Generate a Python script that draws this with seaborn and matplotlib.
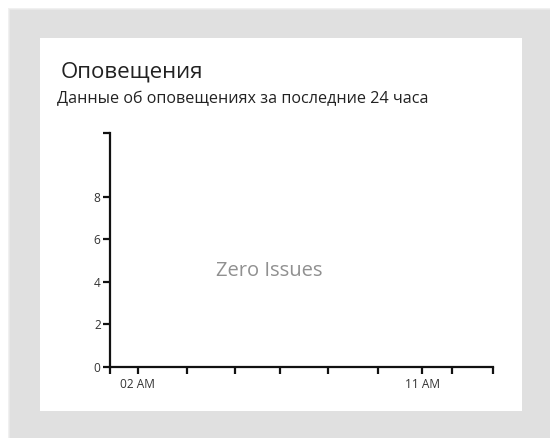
import matplotlib
matplotlib.use("Agg")
import matplotlib.pyplot as plt
import seaborn as sns
import pandas as pd
from matplotlib.patches import Rectangle

# ---- data ----
title = "Оповещения"
subtitle = "Данные об оповещениях за последние 24 часа"
empty_message = "Zero Issues"
hours = []          # no alerts in the period
alert_counts = []
x_ticks = [1.13, 2.0, 3.55, 5.07, 6.5, 8.03, 9.6, 11.0, 11.93, 13.22]
x_tick_labels = ["", "02 AM", "", "", "", "", "", "11 AM", "", ""]
y_ticks = [0, 2, 4, 6, 8, 11]
y_tick_labels = ["0", "2", "4", "6", "8", ""]
x_range = (1.13, 13.22)
y_range = (0, 11)

sns.set_style("white")
plt.rcParams["font.family"] = ["Open Sans", "DejaVu Sans"]

W, H = 550, 438
fig = plt.figure(figsize=(W / 100, H / 100), dpi=100)
fig.patch.set_facecolor("white")

def px_rect(x0, y0, x1, y1, color, z):
    fig.patches.append(Rectangle((x0 / W, 1 - y1 / H), (x1 - x0) / W, (y1 - y0) / H,
                                 transform=fig.transFigure, facecolor=color,
                                 edgecolor="none", zorder=z))

# soft shadow + gray panel
px_rect(8, 8, 550, 438, "#f0f0f0", -3)
px_rect(9, 9, 550, 438, "#e8e8e8", -3)
px_rect(10, 10, 550, 438, "#e0e0e0", -3)
# white card
px_rect(40, 38, 522, 411, "white", -2)

ax = fig.add_axes([110 / W, 1 - 367 / H, (492.7 - 110) / W, (367 - 133) / H])
ax.set_zorder(2)
ax.set_facecolor("none")
df = pd.DataFrame({"hour": pd.Series(hours, dtype=float),
                   "count": pd.Series(alert_counts, dtype=float)})
sns.lineplot(data=df, x="hour", y="count", ax=ax)

ax.set_xlim(*x_range)
ax.set_ylim(*y_range)
ax.set_xticks(x_ticks)
ax.set_xticklabels(x_tick_labels)
ax.set_yticks(y_ticks)
ax.set_yticklabels(y_tick_labels)
ax.set_xlabel("")
ax.set_ylabel("")
for s in ["top", "right"]:
    ax.spines[s].set_visible(False)
for s in ["left", "bottom"]:
    ax.spines[s].set_color("#111111")
    ax.spines[s].set_linewidth(1.6)
ax.tick_params(axis="both", which="major", bottom=True, left=True, length=5.2, width=1.6,
               color="#111111", labelsize=8.6, labelcolor="#333333", pad=1.5, direction="out")
ax.tick_params(axis="x", pad=2.5)

ax.text(0.415, 0.41, empty_message, transform=ax.transAxes, ha="center", va="center",
        fontsize=14.5, color="#909090")

fig.text(61 / W, 1 - 72 / H, title, ha="left", va="center", fontsize=16, color="#222222")
fig.text(57 / W, 1 - 99 / H, subtitle, ha="left", va="center", fontsize=11.65, color="#222222")

fig.savefig("out.png", dpi=100)
